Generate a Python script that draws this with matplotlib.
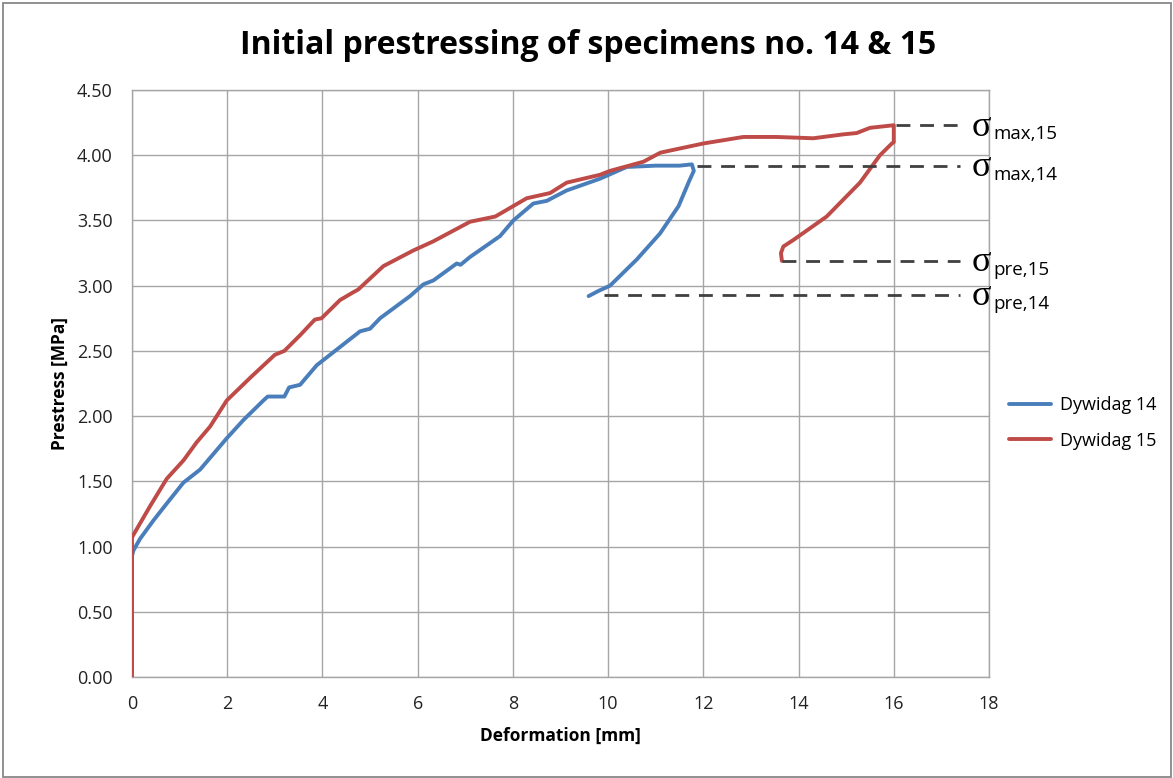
import matplotlib
matplotlib.use("Agg")
import matplotlib.pyplot as plt
from matplotlib.patches import Rectangle

# ---- data ----
x14 = [0, 0, 0.03, 0.17, 0.45, 0.73, 1.08, 1.43, 1.99, 2.34, 2.76, 2.85, 3.2, 3.3, 3.53, 3.88,
       4.37, 4.79, 5.0, 5.21, 5.84, 6.12, 6.33, 6.82, 6.9, 7.10, 7.73, 8.01, 8.43, 8.71, 9.13,
       9.83, 10.39, 11.0, 11.5, 11.76, 11.8, 11.7, 11.48, 11.09, 10.6, 10.04, 9.8, 9.59]
y14 = [0, 0.93, 0.97, 1.06, 1.20, 1.33, 1.49, 1.59, 1.83, 1.97, 2.12, 2.15, 2.15, 2.22, 2.24, 2.39,
       2.53, 2.65, 2.67, 2.75, 2.92, 3.01, 3.04, 3.17, 3.16, 3.22, 3.38, 3.50, 3.63, 3.65, 3.73,
       3.82, 3.91, 3.92, 3.92, 3.93, 3.88, 3.80, 3.61, 3.40, 3.20, 3.00, 2.96, 2.92]

x15 = [0, 0, 0.03, 0.38, 0.73, 1.08, 1.36, 1.64, 1.99, 2.5, 3.0, 3.2, 3.53, 3.84, 3.98, 4.37,
       4.65, 4.75, 5.28, 5.91, 6.33, 7.10, 7.63, 8.29, 8.78, 9.13, 9.83, 10.04, 10.74, 11.1,
       12.0, 12.84, 13.54, 14.31, 14.94, 15.22, 15.5, 16.0, 16.0, 15.96, 15.71, 15.29, 14.59,
       13.89, 13.68, 13.63, 13.65]
y15 = [0, 1.07, 1.09, 1.31, 1.52, 1.66, 1.80, 1.92, 2.12, 2.30, 2.47, 2.50, 2.62, 2.74, 2.75, 2.89,
       2.95, 2.97, 3.15, 3.27, 3.34, 3.49, 3.53, 3.67, 3.71, 3.79, 3.85, 3.88, 3.95, 4.02,
       4.09, 4.14, 4.14, 4.13, 4.16, 4.17, 4.21, 4.23, 4.10, 4.09, 4.00, 3.79, 3.53,
       3.35, 3.30, 3.25, 3.19]

# reference levels: (start x, level y, label subscript)
ref_x_start = [16.05, 11.87, 13.65, 9.92]
ref_y = [4.23, 3.92, 3.19, 2.93]
ref_sub = ["max,15", "max,14", "pre,15", "pre,14"]
ref_x_end = 17.4

title = "Initial prestressing of specimens no. 14 & 15"
xticks = list(range(0, 19, 2))
yticks = [0, 0.5, 1.0, 1.5, 2.0, 2.5, 3.0, 3.5, 4.0, 4.5]

# ---- figure ----
W, H = 1173, 778
fig = plt.figure(figsize=(W / 100, H / 100), dpi=100)
plt.rcParams['font.family'] = ['Open Sans', 'DejaVu Sans']

fig.patches.append(Rectangle((3 / W, 1 / H), (W - 5) / W, (H - 4) / H, transform=fig.transFigure,
                             fill=False, edgecolor='#888888', linewidth=1.3))

ax = fig.add_axes([132 / W, 1 - 677 / H, (989 - 132) / W, (677 - 90) / H])
ax.set_xlim(0, 18)
ax.set_ylim(0, 4.5)
ax.set_xticks(xticks)
ax.set_yticks(yticks)
ax.set_yticklabels([f"{v:.2f}" for v in yticks])
ax.tick_params(length=0, labelsize=13, colors='#222222')
ax.tick_params(axis='y', pad=14)
ax.tick_params(axis='x', pad=13)
ax.grid(True, color='#A6A6A6', linewidth=1.0)
ax.set_axisbelow(True)
for s in ax.spines.values():
    s.set_color('#A6A6A6')
    s.set_linewidth(1.0)

blue, red = '#4A7EBB', '#BE4B48'
ax.plot(x14, y14, color=blue, lw=2.8, label='Dywidag 14', solid_capstyle='round', zorder=3)
ax.plot(x15, y15, color=red, lw=2.8, label='Dywidag 15', solid_capstyle='round', zorder=3)

for xs, yv in zip(ref_x_start, ref_y):
    ax.plot([xs, ref_x_end], [yv, yv], color='#404040', lw=2.0, dashes=(5, 3.5), zorder=4)

ax.set_xlabel("Deformation [mm]", fontsize=12.5, fontweight='bold', labelpad=10)
ax.set_ylabel("Prestress [MPa]", fontsize=12.5, fontweight='bold', labelpad=6)

fig.text(588 / W, 1 - 45 / H, title, ha='center', va='center', fontsize=23, fontweight='bold')

# sigma labels
for yv, sub in zip(ref_y, ref_sub):
    py = 677 - yv * (677 - 90) / 4.5
    fig.text(972 / W, 1 - (py + 2) / H, "σ", family='Liberation Serif', fontsize=26,
             ha='left', va='center')
    fig.text(993 / W, 1 - (py + 9) / H, sub, fontsize=13.5, ha='left', va='center')

fig.legend(loc='center left', bbox_to_anchor=(993 / W, 1 - 423 / H), frameon=False,
           fontsize=13, handlelength=2.3, handletextpad=0.5, labelspacing=0.95)

fig.savefig("out.png", dpi=100)
